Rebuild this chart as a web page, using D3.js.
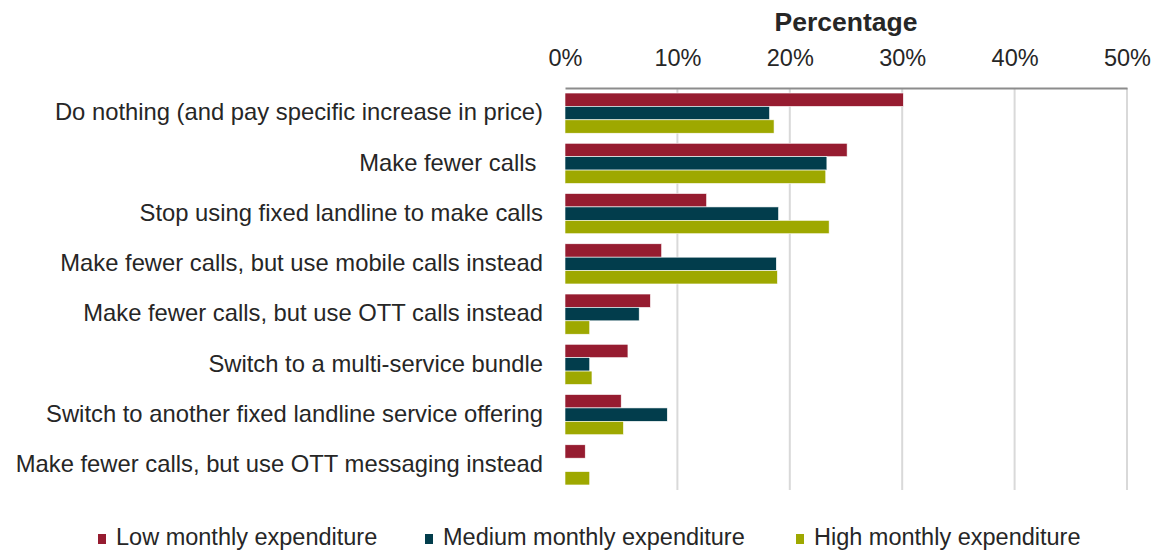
<!DOCTYPE html>
<html>
<head>
<meta charset="utf-8">
<script src="https://cdn.jsdelivr.net/npm/d3@7"></script>
<style>
  body { margin: 0; background: #fff; }
  svg { font-family: "Liberation Sans", Arial, sans-serif; }
</style>
</head>
<body>
<div id="chart"></div>
<script>
// categories top to bottom
const categories = [
    "Do nothing (and pay specific increase in price)",
    "Make fewer calls ",
    "Stop using fixed landline to make calls",
    "Make fewer calls, but use mobile calls instead",
    "Make fewer calls, but use OTT calls instead",
    "Switch to a multi-service bundle",
    "Switch to another fixed landline service offering",
    "Make fewer calls, but use OTT messaging instead"
];
const seriesNames = ["Low monthly expenditure", "Medium monthly expenditure", "High monthly expenditure"];
const lowValues = [30.1, 25.1, 12.6, 8.6, 7.6, 5.6, 5.0, 1.8];
const mediumValues = [18.2, 23.3, 19.0, 18.8, 6.6, 2.2, 9.1, 0];
const highValues = [18.6, 23.2, 23.5, 18.9, 2.2, 2.4, 5.2, 2.2];
const xTicks = [0, 10, 20, 30, 40, 50];
const colors = ["#961c30", "#023d4c", "#9ea800"];

const width = 1151, height = 551;
const margin = {top: 88, right: 24, bottom: 61, left: 565};

const svg = d3.select("#chart").append("svg")
    .attr("width", width)
    .attr("height", height);

const x = d3.scaleLinear().domain([0, 50]).range([margin.left, width - margin.right]);
const y = d3.scaleBand().domain(categories).range([margin.top, height - margin.bottom])
    .paddingInner(0.2).paddingOuter(0.1);
const ySub = d3.scaleBand().domain(seriesNames).range([0, y.bandwidth()]);

// gridlines
svg.append("g").selectAll("line")
    .data(xTicks.slice(1))
    .enter().append("line")
    .attr("x1", d => x(d)).attr("x2", d => x(d))
    .attr("y1", margin.top).attr("y2", height - margin.bottom)
    .attr("stroke", "#d9d9d9").attr("stroke-width", 2);

// top axis
const axis = svg.append("g")
    .attr("transform", `translate(0,${margin.top})`)
    .call(d3.axisTop(x).tickValues(xTicks).tickFormat(d => d + "%").tickSize(0).tickPadding(22));
axis.select(".domain").attr("stroke", "#8c8c8c").attr("stroke-width", 2);
axis.selectAll("text").attr("font-size", 23.5).attr("fill", "#262626")
    .attr("font-family", "Liberation Sans, Arial, sans-serif");

svg.append("text")
    .attr("x", (x(0) + x(50)) / 2)
    .attr("y", 31)
    .attr("text-anchor", "middle")
    .attr("font-size", 26.5)
    .attr("font-weight", "bold")
    .attr("fill", "#262626")
    .text("Percentage");

// bars
const series = [lowValues, mediumValues, highValues];
series.forEach((vals, si) => {
    svg.append("g").selectAll("rect")
        .data(vals)
        .enter().append("rect")
        .attr("x", x(0))
        .attr("y", (d, i) => y(categories[i]) + ySub(seriesNames[si]))
        .attr("width", d => x(d) - x(0))
        .attr("height", ySub.bandwidth())
        .attr("fill", colors[si])
        .attr("stroke", d => d > 0 ? "#fff" : "none")
        .attr("stroke-width", 0.6);
});

// category labels
svg.append("g").selectAll("text")
    .data(categories)
    .enter().append("text")
    .attr("x", margin.left - 22)
    .attr("y", d => y(d) + y.bandwidth() / 2 - 1)
    .attr("dy", "0.35em")
    .attr("text-anchor", "end")
    .attr("font-size", 23.8)
    .attr("fill", "#262626")
    .style("white-space", "pre")
    .text(d => d);

// legend
const legendX = [98, 425, 796];
const legend = svg.append("g").selectAll("g")
    .data(seriesNames)
    .enter().append("g")
    .attr("transform", (d, i) => `translate(${legendX[i]},0)`);
legend.append("rect")
    .attr("x", 0).attr("y", 534)
    .attr("width", 8).attr("height", 10)
    .attr("fill", (d, i) => colors[i]);
legend.append("text")
    .attr("x", 18).attr("y", 545)
    .attr("font-size", 23.5)
    .attr("fill", "#262626")
    .text(d => d);
</script>
</body>
</html>
